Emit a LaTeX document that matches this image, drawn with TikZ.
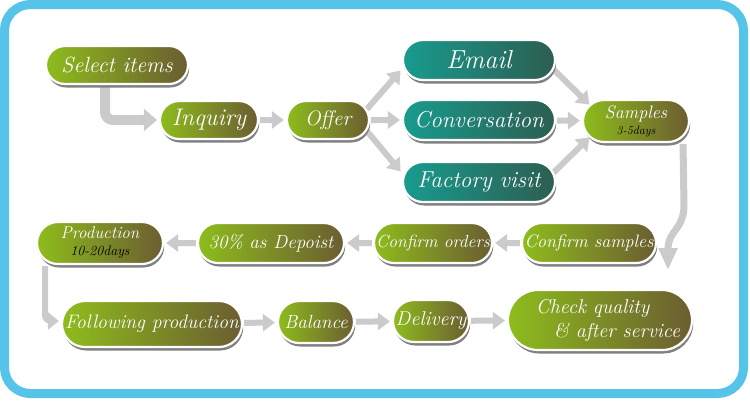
\documentclass[tikz,border=0pt]{standalone}
\usetikzlibrary{shapes.misc,arrows.meta,shadows,backgrounds}
\definecolor{frameblue}{HTML}{56C3E9}
\definecolor{gL}{HTML}{8EBC1C}
\definecolor{gR}{HTML}{6B5D31}
\definecolor{tL}{HTML}{189B8E}
\definecolor{tR}{HTML}{2C5E51}
\definecolor{arrowgray}{HTML}{CBCBCB}
\newcommand\fsz[2]{\fontsize{#1}{#2}\selectfont\itshape}
\tikzset{
  pill/.style={rounded rectangle, draw=white, line width=2.2pt, text=white, inner sep=0pt,
    drop shadow={shadow xshift=1.2pt, shadow yshift=-3.5pt, fill=black!50, opacity=1}},
  greenpill/.style={pill, left color=gL, right color=gR},
  tealpill/.style={pill, left color=tL, right color=tR},
  flow/.style={draw=arrowgray, line width=6pt, -{Triangle[length=12pt,width=17pt]},
    shorten <=1pt, shorten >=2pt},
  bigflow/.style={flow, line width=10pt, -{Triangle[length=13pt,width=22pt]}},
}
\begin{document}
\begin{tikzpicture}[x=1pt,y=-1pt]
\useasboundingbox (0,0) rectangle (750,400);

% nodes
\node[greenpill, minimum width=142pt, minimum height=38pt, font=\fsz{22}{26}] (sel) at (117,65) {Select items};
\node[greenpill, minimum width=98pt, minimum height=38pt, font=\fsz{24}{28}] (inq) at (209,120) {Inquiry};
\node[greenpill, minimum width=82pt, minimum height=38pt, font=\fsz{21}{24}] (off) at (328,120) {Offer};
\node[tealpill, minimum width=152pt, minimum height=40pt, font=\fsz{26}{30}] (email) at (479,60) {Email};
\node[tealpill, minimum width=152pt, minimum height=40pt, font=\fsz{23}{27}] (conv) at (479,120) {Conversation};
\node[tealpill, minimum width=152pt, minimum height=40pt, font=\fsz{23}{27}] (fact) at (479,182) {Factory visit};
\node[greenpill, minimum width=106pt, minimum height=42pt, align=center, font=\fsz{18}{19}] (samp) at (636,121)
  {Samples\\[-3pt]{\color{black}\fsz{12}{13}3-5days}};
\node[greenpill, minimum width=134pt, minimum height=40pt, font=\fsz{18}{22}] (csamp) at (589,243) {Confirm samples};
\node[greenpill, minimum width=118pt, minimum height=40pt, font=\fsz{17.5}{22}] (cord) at (433,243) {Confirm orders};
\node[greenpill, minimum width=146pt, minimum height=40pt, font=\fsz{19}{22}] (dep) at (271,243) {30\% as Depoist};
\node[greenpill, minimum width=126pt, minimum height=42pt, align=center, font=\fsz{17}{18}] (prod) at (100,243)
  {Production\\[-1pt]{\color{black}\fsz{14}{15}10-20days}};
\node[greenpill, minimum width=180pt, minimum height=46pt, font=\fsz{19.5}{24}] (foll) at (152,324) {Following production};
\node[greenpill, minimum width=76pt, minimum height=42pt, font=\fsz{19}{22}] (bal) at (316,322) {Balance};
\node[greenpill, minimum width=76pt, minimum height=42pt, font=\fsz{20}{22}] (deliv) at (431,321) {Delivery};
\node[greenpill, minimum width=184pt, minimum height=60pt, align=left, font=\fsz{20}{24}] (check) at (600,320)
  {\hspace*{16pt}Check quality\\\hspace*{34pt}\& after service};

\coordinate (csend) at (668,272);

\begin{scope}[on background layer]
  % frame
  \draw[frameblue, line width=9pt, fill=white, rounded corners=26pt] (4.5,4.5) rectangle (743.5,393.5);
  % connectors
  \draw[bigflow, rounded corners=8pt] ([xshift=-12pt]sel.south) |- (inq.west);
  \draw[flow] (inq) -- (off);
  \draw[flow] ([xshift=-4pt,yshift=10pt]off.east) -- ([yshift=-9pt]email.west);
  \draw[flow] (off) -- (conv);
  \draw[flow] ([xshift=-4pt,yshift=-10pt]off.east) -- ([yshift=9pt]fact.west);
  \draw[flow] ([xshift=-4pt,yshift=-8pt]email.east) -- ([xshift=9pt,yshift=15pt]samp.west);
  \draw[flow] (conv) -- (samp);
  \draw[flow] ([xshift=-4pt,yshift=8pt]fact.east) -- ([xshift=9pt,yshift=-15pt]samp.west);
  \draw[flow, line width=7pt, -{Triangle[length=22pt,width=18pt]}] ([xshift=47pt]samp.south) -- (684,205)
     .. controls (684,230) and (668,230) .. (csend);
  \draw[flow] (csamp) -- (cord);
  \draw[flow] (cord) -- (dep);
  \draw[flow] (dep) -- (prod);
  \draw[flow, rounded corners=6pt, -{Triangle[length=11pt,width=17pt]}] ([xshift=-55pt]prod.south) |- ([yshift=3pt]foll.west);
  \draw[flow] (foll) -- (bal);
  \draw[flow] (bal) -- (deliv);
  \draw[flow] (deliv) -- (check);
\end{scope}
\end{tikzpicture}
\end{document}
